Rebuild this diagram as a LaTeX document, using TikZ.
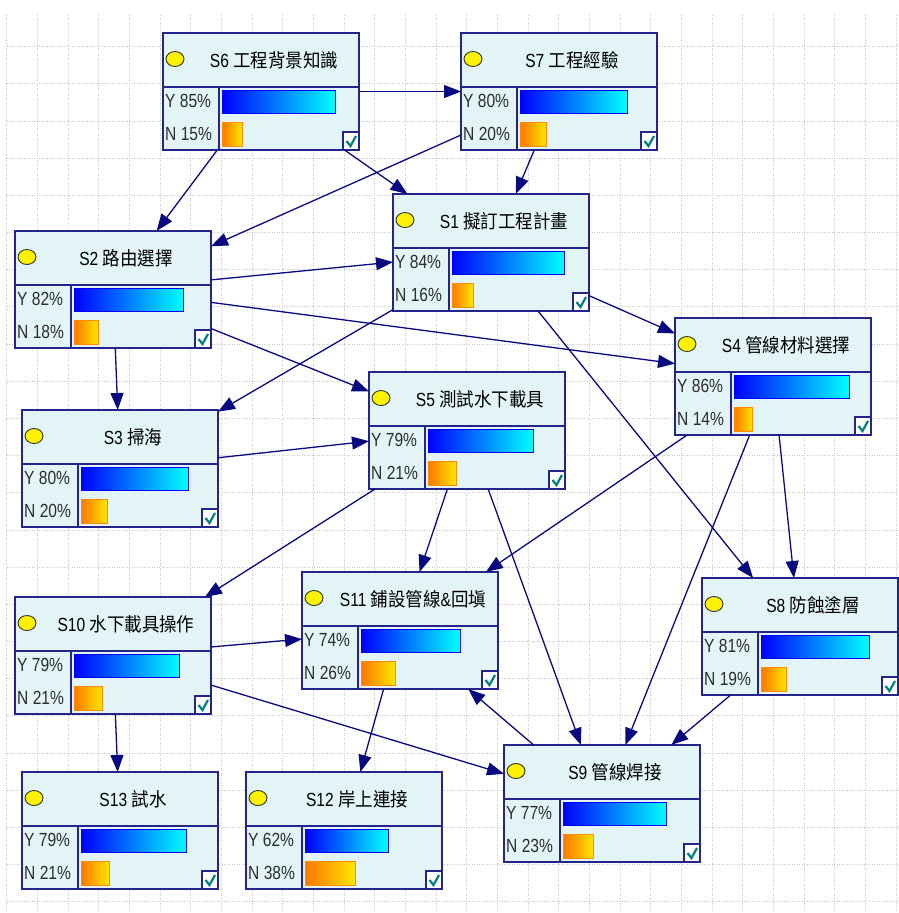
\documentclass[tikz,border=0pt]{standalone}
\usepackage{fontspec}
\setmainfont{Liberation Sans}[FakeStretch=0.82]
\newfontfamily\cjk{Noto Sans CJK TC}[FakeStretch=0.92]
\usetikzlibrary{arrows.meta}
\definecolor{boxfill}{RGB}{226,244,245}
\definecolor{boxline}{RGB}{36,36,140}
\definecolor{edgecol}{RGB}{10,10,128}
\definecolor{gridcol}{RGB}{200,200,200}
\definecolor{checkcol}{RGB}{0,128,128}
\definecolor{barorange}{RGB}{255,118,0}
\definecolor{baryellow}{RGB}{255,232,0}
\definecolor{pctcol}{RGB}{45,45,45}

\begin{document}
\begin{tikzpicture}[x=1pt,y=-1pt,
	netbox/.style={rectangle, draw=boxline, fill=boxfill, line width=1.4pt, minimum width=196pt, minimum height=117pt, inner sep=0pt, outer sep=0pt, anchor=north west},
	divline/.style={draw=boxline, line width=1.4pt},
	oval/.style={draw=black!80, fill=yellow, line width=0.9pt},
	titletext/.style={inner sep=0pt, font=\fontsize{19}{22}\selectfont},
	pcttext/.style={anchor=west, inner sep=0pt, text=pctcol, font=\fontsize{19}{22}\selectfont},
	ybar/.style={draw=blue, line width=1pt, left color=blue, right color=cyan},
	nbar/.style={draw=barorange!85!yellow, line width=1pt, left color=barorange, right color=baryellow},
	checkbox/.style={draw=boxline, fill=white, line width=1.2pt},
	checkmark/.style={draw=checkcol, line width=2.2pt},
	gridline/.style={draw=gridcol, line width=0.8pt, dash pattern=on 1pt off 1.5pt},
	netarrow/.style={draw=edgecol, line width=1.3pt, -{Triangle[length=17pt,width=13pt]}}]
	\newcommand{\netnode}[6]{
		\begin{scope}[shift={(#2,#3)}]
			\node[netbox] (#1) at (0,0) {};
			\draw[divline] (0,54) -- (196,54);
			\draw[divline] (56,54) -- (56,117);
			\draw[oval] (12,26) ellipse [x radius=9pt, y radius=7.5pt];
			\node[titletext] at (111,27) {#4};
			\node[pcttext] at (2,68) {Y #5\%};
			\node[pcttext] at (2,101) {N #6\%};
			\draw[ybar] (59,57) rectangle ({59+1.34*#5},80);
			\draw[nbar] (59,89) rectangle ({59+1.34*#6},113);
			\draw[checkbox] (180,99) rectangle (196,117);
			\draw[checkmark] (183.5,108) -- (187.5,113) -- (193,103);
		\end{scope}
	}
	\useasboundingbox[fill=white] (0,0) rectangle (899,913);
	%Dotted background grid
	\foreach \k in {0,...,29} {
		\draw[gridline] ({6.7+30.67*\k},15) -- ({6.7+30.67*\k},913);
	}
	\foreach \k in {0,...,23} {
		\draw[gridline] (6.7,{46.7+37.17*\k}) -- (899,{46.7+37.17*\k});
	}
	%Top row
	\netnode{s6}{163}{33}{S6 {\cjk 工程背景知識}}{85}{15}
	\netnode{s7}{461}{33}{S7 {\cjk 工程經驗}}{80}{20}
	\netnode{s1}{393}{194}{S1 {\cjk 擬訂工程計畫}}{84}{16}
	\netnode{s2}{15}{231}{S2 {\cjk 路由選擇}}{82}{18}
	%Middle
	\netnode{s4}{675}{318}{S4 {\cjk 管線材料選擇}}{86}{14}
	\netnode{s5}{369}{372}{S5 {\cjk 測試水下載具}}{79}{21}
	\netnode{s3}{22}{410}{S3 {\cjk 掃海}}{80}{20}
	\netnode{s10}{15}{597}{S10 {\cjk 水下載具操作}}{79}{21}
	\netnode{s11}{302}{572}{S11 {\cjk 鋪設管線}\&{\cjk 回塡}}{74}{26}
	\netnode{s8}{702}{578}{S8 {\cjk 防蝕塗層}}{81}{19}
	%Bottom row
	\netnode{s9}{504}{745}{S9 {\cjk 管線焊接}}{77}{23}
	\netnode{s13}{22}{772}{S13 {\cjk 試水}}{79}{21}
	\netnode{s12}{246}{772}{S12 {\cjk 岸上連接}}{62}{38}
	%Dependencies
	\draw[netarrow] (s6) -- (s7);
	\draw[netarrow] (s6) -- (s2);
	\draw[netarrow] (s6) -- (s1);
	\draw[netarrow] (s7) -- (s1);
	\draw[netarrow] (s7) -- (s2);
	\draw[netarrow] (s2) -- (s1);
	\draw[netarrow] (s2) -- (s4);
	\draw[netarrow] (s2) -- (s5);
	\draw[netarrow] (s2) -- (s3);
	\draw[netarrow] (s1) -- (s4);
	\draw[netarrow] (s1) -- (s3);
	\draw[netarrow] (s1) -- (s8);
	\draw[netarrow] (s3) -- (s5);
	\draw[netarrow] (s5) -- (s10);
	\draw[netarrow] (s5) -- (s11);
	\draw[netarrow] (s5) -- (s9);
	\draw[netarrow] (s4) -- (s11);
	\draw[netarrow] (s4) -- (s8);
	\draw[netarrow] (s4) -- (s9);
	\draw[netarrow] (s10) -- (s11);
	\draw[netarrow] (s10) -- (s13);
	\draw[netarrow] (s10) -- (s9);
	\draw[netarrow] (s11) -- (s12);
	\draw[netarrow] (s9) -- (s11);
	\draw[netarrow] (s8) -- (s9);
\end{tikzpicture}
\end{document}
